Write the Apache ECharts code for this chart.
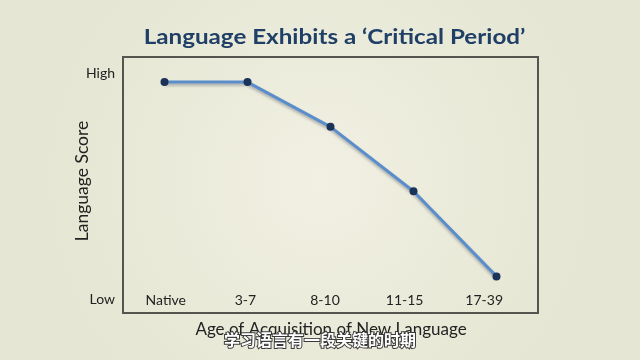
<!DOCTYPE html>
<html>
<head>
<meta charset="utf-8">
<script src="https://cdn.jsdelivr.net/npm/echarts@6/dist/echarts.min.js"></script>
<style>html,body{margin:0;padding:0;}#c{width:640px;height:360px;}</style>
</head>
<body>
<div id="c"></div>
<script>
const categories = ['Native', '3-7', '8-10', '11-15', '17-39'];
const scores = [96, 96, 76.2, 47.7, 10];
const yTickValues = [0, 100];
const yTickLabels = ['Low', 'High'];
const titleText = 'Language Exhibits a \u2018Critical Period\u2019';
const xName = 'Age of Acquisition of New Language';
const yName = 'Language Score';
const caption = '学习语言有一段关键的时期';

const chart = echarts.init(document.getElementById('c'), null, {renderer: 'canvas'});
const font = 'Lato';
chart.setOption({
  animation: false,
  backgroundColor: {
    type: 'radial', x: 0.5, y: 0.5, r: 0.75,
    colorStops: [{offset: 0, color: '#f1f0e3'}, {offset: 1, color: '#e5e6d3'}]
  },
  grid: [
    {left: 123, top: 57, width: 415, height: 256, show: true, borderColor: '#55554f', borderWidth: 2, backgroundColor: 'transparent'},
    {left: 126, top: 57, width: 398, height: 256, show: false}
  ],
  xAxis: [
    {type: 'category', gridIndex: 0, data: categories, boundaryGap: true,
     axisLine: {show: false}, axisTick: {show: false}, axisLabel: {show: false}, splitLine: {show: false}},
    {type: 'category', gridIndex: 1, data: categories, boundaryGap: true,
     axisLine: {show: false}, axisTick: {show: false}, splitLine: {show: false},
     axisLabel: {inside: true, margin: 6, fontFamily: font, fontSize: 14, color: '#222'}}
  ],
  yAxis: [
    {type: 'value', gridIndex: 0, min: -6.2, max: 107.1,
     axisLine: {show: false}, axisTick: {show: false}, splitLine: {show: false},
     axisLabel: {customValues: yTickValues, margin: 8, fontFamily: font, fontSize: 14, color: '#222',
       formatter: v => yTickLabels[yTickValues.indexOf(v)]}},
    {type: 'value', gridIndex: 1, min: 0, max: 1, show: false}
  ],
  series: [{
    type: 'line', xAxisIndex: 0, yAxisIndex: 0, data: scores,
    symbol: 'circle', symbolSize: 8,
    lineStyle: {color: '#5a8dcb', width: 3, shadowColor: 'rgba(30,40,60,0.35)', shadowBlur: 3, shadowOffsetY: 2},
    itemStyle: {color: '#1b3358', borderWidth: 0}
  }],
  graphic: [
    {type: 'text', x: 334.5, y: 37, scaleX: 1.18,
     style: {text: titleText, align: 'center', verticalAlign: 'middle',
       fontFamily: font, fontWeight: 'bold', fontSize: 20.5, fill: '#1f3f66'}},
    {type: 'text', x: 82, y: 181, rotation: Math.PI / 2,
     style: {text: yName, align: 'center', verticalAlign: 'middle', fontFamily: font, fontSize: 17.5, fill: '#222'}},
    {type: 'text', x: 331, y: 330,
     style: {text: xName, align: 'center', verticalAlign: 'middle', fontFamily: font, fontSize: 17, fill: '#222'}},
    {type: 'text', x: 320, y: 340, style: {text: caption, align: 'center', verticalAlign: 'middle',
      fontFamily: 'Noto Sans CJK SC', fontSize: 16, fontWeight: 'bold', fill: '#ffffff', stroke: '#3a3a3a', lineWidth: 2}}
  ]
});
</script>
</body>
</html>
